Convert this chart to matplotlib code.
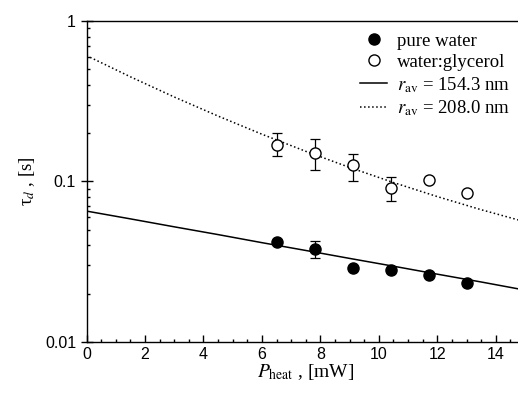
import numpy as np
import matplotlib.pyplot as plt

plt.rcParams['mathtext.fontset'] = 'stix'

# measured points
p_heat = [6.5, 7.8, 9.1, 10.4, 11.7, 13.0]
tau_water = [0.0418, 0.0380, 0.0290, 0.0282, 0.0261, 0.0232]
tau_glyc = [0.169, 0.150, 0.126, 0.091, 0.1025, 0.0846]

# error bars (lower, upper) where visible
err_water_x = [7.8]
err_water_lo = [0.0332]
err_water_hi = [0.0428]
err_glyc_x = [6.5, 7.8, 9.1, 10.4]
err_glyc_y = [0.169, 0.150, 0.126, 0.091]
err_glyc_lo = [0.145, 0.117, 0.101, 0.0757]
err_glyc_hi = [0.199, 0.184, 0.148, 0.106]

# model curves
fit_x = [0, 1.5, 3, 4.5, 6, 7.5, 9, 10.5, 12, 13.5, 15]
fit_154 = [0.0653, 0.0584, 0.0521, 0.0466, 0.0415, 0.0371, 0.0331, 0.0296, 0.0264, 0.0236, 0.0210]
fit_208 = [0.609, 0.449, 0.336, 0.2555, 0.1969, 0.154, 0.1222, 0.0984, 0.0804, 0.0666, 0.0560]

fig = plt.figure(figsize=(5.18, 4.04), dpi=100)
ax = fig.add_axes([0.167, 0.154, 0.8465, 0.794])

ax.plot(p_heat, tau_water, 'o', color='black', ms=8, label='pure water', zorder=3)
ax.plot(p_heat, tau_glyc, 'o', mfc='white', mec='black', mew=1.0, ms=8,
        label='water:glycerol', zorder=3)
ax.plot(fit_x, fit_154, '-', color='black', lw=1.1, label=r'$r_{\rm av}$ = 154.3 nm')
ax.plot(fit_x, fit_208, ':', color='black', lw=1.1, label=r'$r_{\rm av}$ = 208.0 nm')

w_y = np.array([tau_water[1]])
ax.errorbar(err_water_x, w_y,
            yerr=[w_y - np.array(err_water_lo), np.array(err_water_hi) - w_y],
            fmt='none', ecolor='black', elinewidth=0.9, capsize=3.5, capthick=0.9)
g_y = np.array(err_glyc_y)
ax.errorbar(err_glyc_x, g_y,
            yerr=[g_y - np.array(err_glyc_lo), np.array(err_glyc_hi) - g_y],
            fmt='none', ecolor='black', elinewidth=0.9, capsize=3.5, capthick=0.9)

ax.set_yscale('log')
ax.set_xlim(0, 15)
ax.set_ylim(0.01, 1)
ax.set_xticks(np.arange(0, 15, 2))
ax.set_xticks(np.arange(0, 15.1, 0.5), minor=True)
ax.set_yticks([0.01, 0.1, 1])
ax.set_yticklabels(['0.01', '0.1', '1'])
ax.tick_params(which='both', direction='in', top=False, right=False, labelsize=11.5,
               width=1.0)
ax.tick_params(which='major', length=5)
ax.tick_params(axis='y', which='major', direction='inout', length=8)
ax.tick_params(which='minor', length=2.5)
for lab in ax.get_xticklabels() + ax.get_yticklabels():
    lab.set_family('Liberation Sans')
for s in ax.spines.values():
    s.set_linewidth(1.0)

ax.set_xlabel(r'$P_{\rm heat}$ , [mW]', fontsize=14, family='Liberation Serif', labelpad=0)
ax.set_ylabel(r'τ$_d$ , [s]', fontsize=13.5, family='Liberation Serif', labelpad=6)

leg = ax.legend(loc='upper right', bbox_to_anchor=(1.004, 1.017), frameon=False,
                prop={'family': 'Liberation Serif', 'size': 13.5},
                handlelength=1.45, handletextpad=0.5, labelspacing=0.22)

fig.savefig('out.png', dpi=100)
